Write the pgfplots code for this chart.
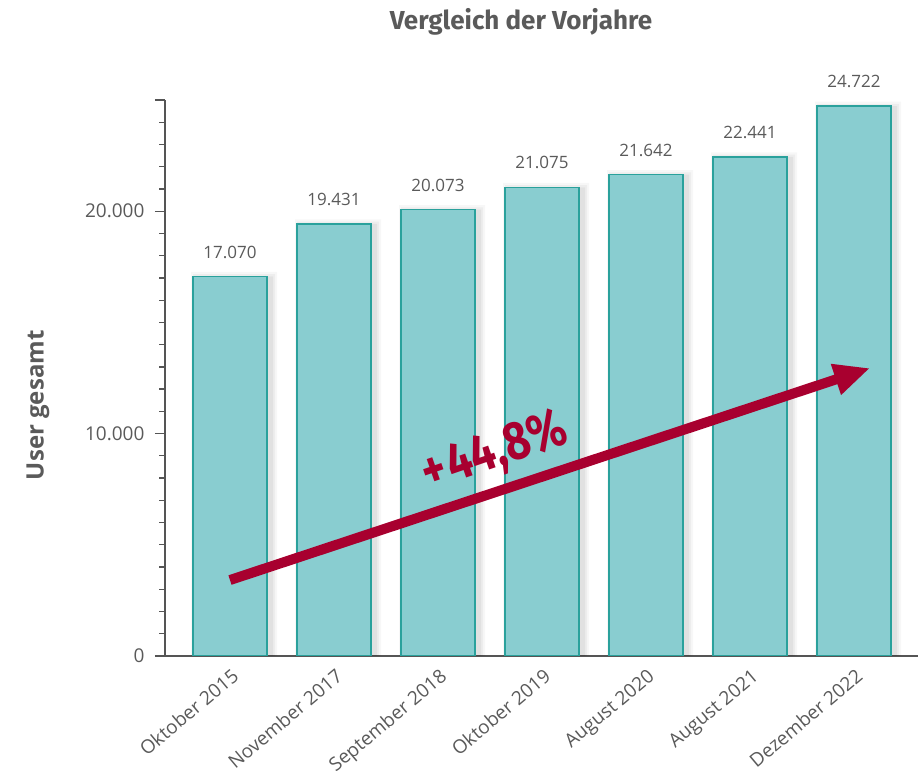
\documentclass[border=0pt]{standalone}
\usepackage{pgfplots}
\pgfplotsset{compat=1.18}
\usepackage{fontspec}
\setmainfont{Open Sans}
\newfontfamily\fira{Fira Sans}
\usetikzlibrary{arrows.meta}
\definecolor{barfill}{HTML}{89CDD0}
\definecolor{baredge}{HTML}{2AA19C}
\definecolor{arrowred}{HTML}{A8002F}
\definecolor{txtgray}{HTML}{5A5A5A}
\definecolor{axgray}{HTML}{555555}
\begin{document}
\begin{tikzpicture}
\useasboundingbox (-165pt,-115pt) rectangle (754pt,656pt);
\begin{axis}[
  at={(0,0)}, anchor=south west,
  scale only axis, width=753pt, height=556pt,
  xmin=-0.625, xmax=6.615, ymin=0, ymax=25000,
  axis x line=bottom, axis y line=left,
  axis line style={axgray, line width=1.3pt, -},
  xtick={0,...,6},
  xticklabels={Oktober 2015, November 2017, September 2018, Oktober 2019, August 2020, August 2021, Dezember 2022},
  x tick style={draw=none},
  x tick label style={rotate=40, anchor=north east, xshift=3pt, yshift=2pt, font=\fontsize{19}{19}\selectfont, text=txtgray},
  ytick={0,10000,20000},
  minor ytick={1000,2000,...,24000},
  extra y ticks={25000}, extra y tick labels={},
  scaled y ticks=false,
  tick align=outside, major tick length=10pt, minor tick length=5.5pt,
  y tick style={axgray, line width=1.3pt},
  yticklabel style={font=\fontsize{19}{19}\selectfont, text=txtgray, xshift=-7pt},
  /pgf/number format/1000 sep={.},
  /pgf/number format/assume math mode=true,
  ylabel={User gesamt},
  ylabel style={at={(axis description cs:-0.1687,0.451)}, anchor=center, font=\bfseries\fontsize{24}{24}\selectfont, text=txtgray},
]
\addplot[ybar, bar width=86pt, bar shift=4pt, fill=black, draw=none, opacity=0.03]
  coordinates {(0,17270) (1,19631) (2,20273) (3,21275) (4,21842) (5,22641) (6,24922)};
\addplot[ybar, bar width=82pt, bar shift=4pt, fill=black, draw=none, opacity=0.04]
  coordinates {(0,17170) (1,19531) (2,20173) (3,21175) (4,21742) (5,22541) (6,24822)};
\addplot[ybar, bar width=78pt, bar shift=4pt, fill=black, draw=none, opacity=0.05]
  coordinates {(0,17070) (1,19431) (2,20073) (3,21075) (4,21642) (5,22441) (6,24722)};
\addplot[ybar, bar width=74pt, bar shift=0pt, fill=barfill, draw=baredge, line width=1.5pt,
  nodes near coords,
  nodes near coords style={font=\fontsize{17}{17}\selectfont, text=txtgray, yshift=14pt,
     /pgf/number format/1000 sep={.}, /pgf/number format/assume math mode=true}]
  coordinates {(0,17070) (1,19431) (2,20073) (3,21075) (4,21642) (5,22441) (6,24722)};
\addplot[arrowred, line width=10pt, -{Triangle[length=36pt,width=30pt]}]
  coordinates {(0,3416) (6.154,12944)};
\node[rotate=19, xscale=0.82, text=arrowred, font=\fira\bfseries\fontsize{54}{54}\selectfont] at (axis cs:2.548,9150) {+\kern3pt44,8\%};
\end{axis}
\node[font=\fira\bfseries\fontsize{26}{26}\selectfont, text=txtgray] at (356pt,634pt) {Vergleich der Vorjahre};
\end{tikzpicture}
\end{document}
